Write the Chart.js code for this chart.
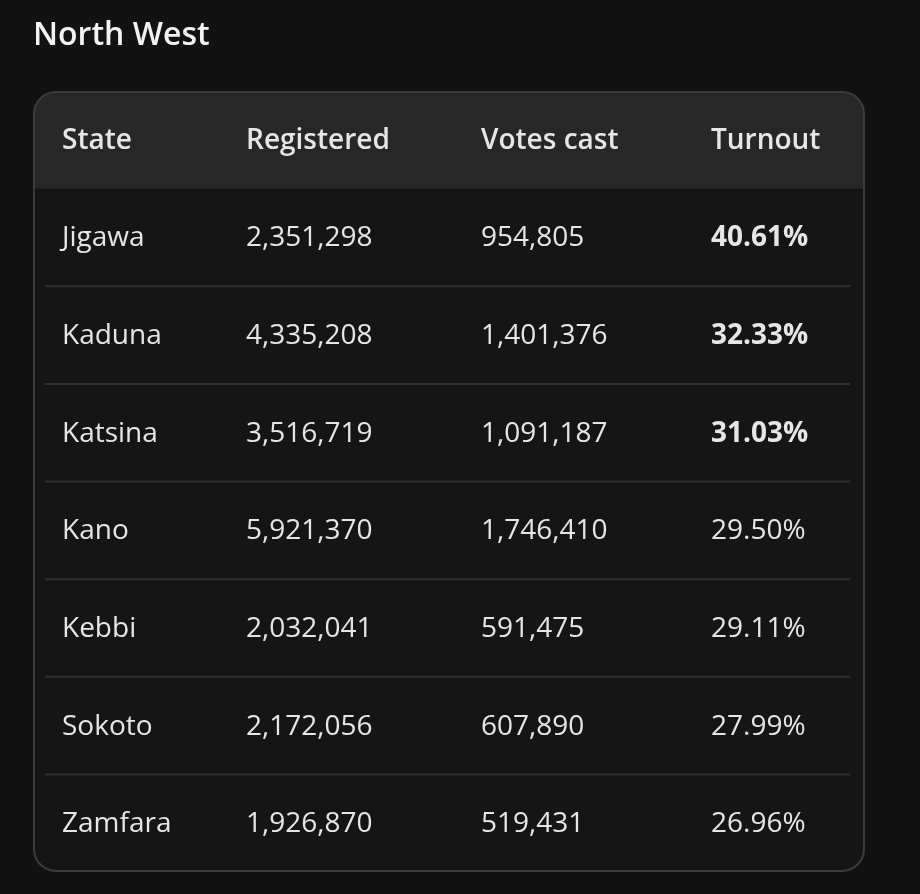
<!DOCTYPE html>
<html><head><meta charset="utf-8">
<script src="https://cdn.jsdelivr.net/npm/chart.js@4"></script>
<style>html,body{margin:0;background:#121212;}#w{width:920px;height:894px;}</style>
</head><body><div id="w"><canvas id="c"></canvas></div>
<script>
const title = "North West";
const headers = ["State","Registered","Votes cast","Turnout"];
const states = ["Jigawa","Kaduna","Katsina","Kano","Kebbi","Sokoto","Zamfara"];
const registered = ["2,351,298","4,335,208","3,516,719","5,921,370","2,032,041","2,172,056","1,926,870"];
const votesCast = ["954,805","1,401,376","1,091,187","1,746,410","591,475","607,890","519,431"];
const turnout = ["40.61%","32.33%","31.03%","29.50%","29.11%","27.99%","26.96%"];
const boldTop = 3;

const rows = ["__header__", ...states];
const colLeft = [29, 213, 448, 678];
const FONT = '"Open Sans"';

const tablePlugin = {
  id: 'table',
  beforeDraw(chart){
    const ctx = chart.ctx, a = chart.chartArea, ys = chart.scales.y;
    ctx.save();
    ctx.fillStyle = '#121212'; ctx.fillRect(0,0,chart.width,chart.height);
    ctx.fillStyle = '#f2f2f2'; ctx.font = '600 32px '+FONT; ctx.textBaseline='alphabetic';
    ctx.fillText(title, 33, 45);
    const r = 22;
    ctx.beginPath(); ctx.roundRect(a.left+0.5, a.top+0.5, a.width-1, a.height-1, r);
    ctx.fillStyle = '#151515'; ctx.fill();
    ctx.save(); ctx.clip();
    const rowH = ys.getPixelForValue(1) - ys.getPixelForValue(0);
    const hb = ys.getPixelForValue(0) + rowH/2;
    ctx.fillStyle = '#272727'; ctx.fillRect(a.left, a.top, a.width, hb - a.top);
    ctx.restore();
    ctx.strokeStyle = '#3c3c3c'; ctx.lineWidth = 2;
    ctx.beginPath(); ctx.roundRect(a.left+1, a.top+1, a.width-2, a.height-2, r); ctx.stroke();
    ctx.strokeStyle = '#303030'; ctx.lineWidth = 2;
    for (let i=1;i<states.length;i++){
      const y = ys.getPixelForValue(i) + rowH/2;
      ctx.beginPath(); ctx.moveTo(a.left+12, y); ctx.lineTo(a.right-15, y); ctx.stroke();
    }
    ctx.textBaseline = 'middle';
    ctx.fillStyle = '#e6e6e6';
    ctx.font = '600 28px '+FONT;
    headers.forEach((h,j)=>ctx.fillText(h, a.left+colLeft[j], ys.getPixelForValue(0)+1));
    states.forEach((s,i)=>{
      const y = ys.getPixelForValue(i+1)+1;
      ctx.font = '28px '+FONT;
      ctx.fillText(s, a.left+colLeft[0], y);
      ctx.fillText(registered[i], a.left+colLeft[1], y);
      ctx.fillText(votesCast[i], a.left+colLeft[2], y);
      ctx.font = (i<boldTop?'bold ':'')+'28px '+FONT;
      ctx.fillText(turnout[i], a.left+colLeft[3], y);
    });
    ctx.restore();
  }
};

new Chart(document.getElementById('c'), {
  type: 'bar',
  data: { labels: rows, datasets: [{ data: rows.map(()=>null) }] },
  options: {
    indexAxis: 'y', responsive: true, maintainAspectRatio: false, animation: false,
    layout: { padding: { top: 91, bottom: 22, left: 33, right: 55 } },
    plugins: { legend: {display:false}, tooltip: {enabled:false} },
    scales: {
      y: { type:'category', display:false, offset:true },
      x: { display:false, min:0, max:1 }
    }
  },
  plugins: [tablePlugin]
});
</script></body></html>
